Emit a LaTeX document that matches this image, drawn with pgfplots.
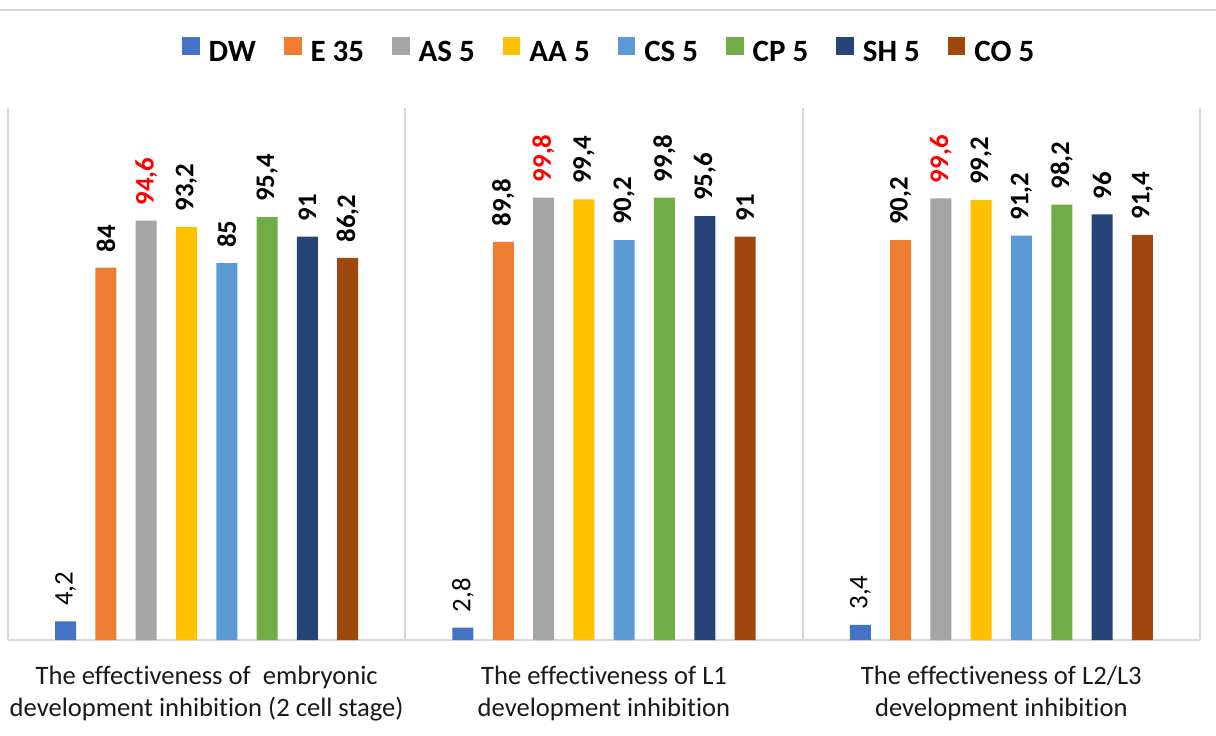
\documentclass[border=0pt]{standalone}
\usepackage{pgfplots}
\pgfplotsset{compat=1.18}
\usepackage{fontspec}
\setmainfont{Carlito}[Ligatures=NoCommon]

% Office palette
\definecolor{cDW}{HTML}{4472C4}
\definecolor{cE}{HTML}{ED7D31}
\definecolor{cAS}{HTML}{A5A5A5}
\definecolor{cAA}{HTML}{FFC000}
\definecolor{cCS}{HTML}{5B9BD5}
\definecolor{cCP}{HTML}{70AD47}
\definecolor{cSH}{HTML}{264478}
\definecolor{cCO}{HTML}{9E480E}
\definecolor{gridgray}{HTML}{D9D9D9}

\begin{document}
\begin{tikzpicture}
\useasboundingbox (-4pt,-47.5pt) rectangle (604pt,320pt);
\draw[gridgray, line width=1.2pt] (-4pt,315pt) -- (604pt,315pt);
\begin{axis}[
  at={(0,0)}, anchor=south west,
  scale only axis, width=596pt, height=266pt,
  ybar=9.65pt, bar width=10.5pt,
  xmin=-0.5, xmax=2.5, ymin=0, ymax=120,
  axis x line*=bottom, axis y line=none,
  x axis line style={draw=gridgray, line width=0.9pt, -},
  xtick={0,1,2},
  xticklabels={{The effectiveness of\ \ embryonic\\development inhibition (2 cell stage)},
               {The effectiveness of L1\\development inhibition},
               {The effectiveness of L2/L3\\development inhibition}},
  xticklabel style={align=center, anchor=north, inner sep=0pt, yshift=-13pt,
                    font=\fontsize{13.3}{16}\selectfont, text=black!90},
  major tick length=0pt, minor tick length=0pt,
  minor xtick={-0.5,0.5,1.5,2.5},
  xminorgrids, minor grid style={draw=gridgray, line width=0.9pt},
  /pgf/number format/assume math mode=true,
  /pgf/number format/use comma,
  nodes near coords,
  every node near coord/.append style={rotate=90, anchor=west, inner xsep=7.5pt, inner ysep=0pt,
        font=\fontsize{13.4}{15}\selectfont\bfseries, text=black},
  legend columns=8,
  legend style={at={(0.5035,1.107)}, anchor=center, draw=none, fill=none,
        font=\fontsize{15.5}{18}\selectfont\bfseries, inner sep=0pt,
        nodes={inner sep=0pt},
        /tikz/every odd column/.append style={column sep=4.5pt},
        /tikz/every even column/.append style={column sep=14pt}},
  legend image code/.code={\fill[#1] (0pt,-1pt) rectangle (8.8pt,7.8pt);},
]
\addplot[fill=cDW, draw=none,
  every node near coord/.append style={font=\fontsize{13.4}{15}\selectfont\mdseries}]
  coordinates {(0,4.2) (1,2.8) (2,3.4)};
\addplot[fill=cE, draw=none]  coordinates {(0,84) (1,89.8) (2,90.2)};
\addplot[fill=cAS, draw=none, every node near coord/.append style={text=red}]
  coordinates {(0,94.6) (1,99.8) (2,99.6)};
\addplot[fill=cAA, draw=none] coordinates {(0,93.2) (1,99.4) (2,99.2)};
\addplot[fill=cCS, draw=none] coordinates {(0,85) (1,90.2) (2,91.2)};
\addplot[fill=cCP, draw=none] coordinates {(0,95.4) (1,99.8) (2,98.2)};
\addplot[fill=cSH, draw=none] coordinates {(0,91) (1,95.6) (2,96)};
\addplot[fill=cCO, draw=none] coordinates {(0,86.2) (1,91) (2,91.4)};
\legend{DW, E 35, AS 5, AA 5, CS 5, CP 5, SH 5, CO 5}
\end{axis}
\end{tikzpicture}
\end{document}
